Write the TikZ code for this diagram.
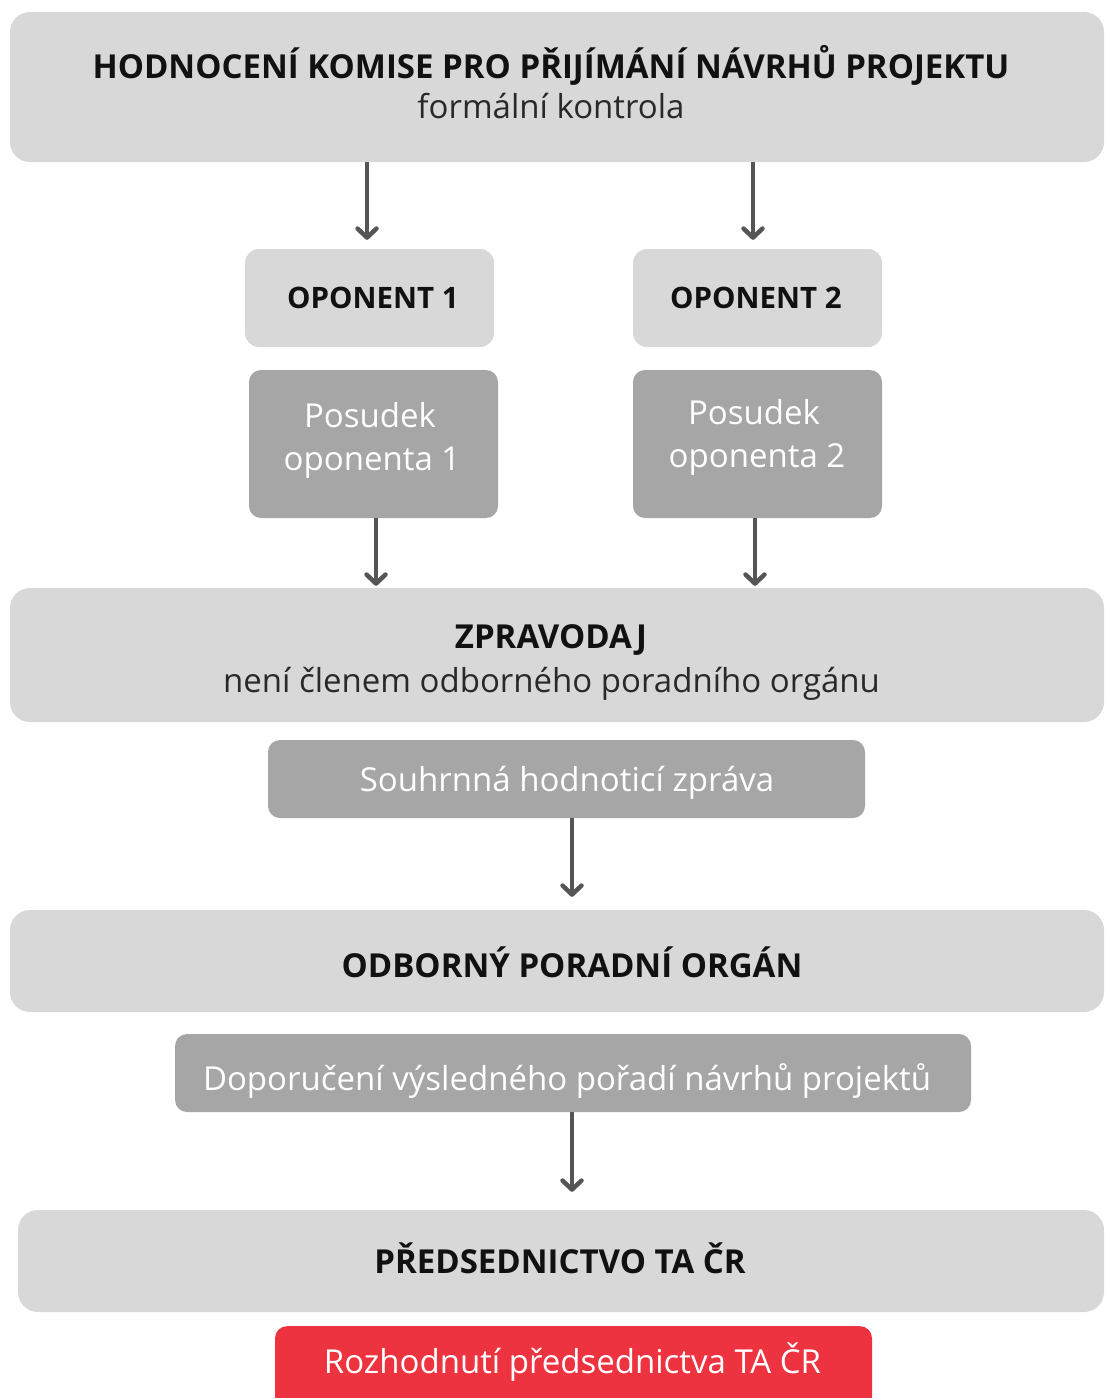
\documentclass[tikz,border=0pt]{standalone}
\usepackage{fontspec}
\setmainfont{Open Sans}
\usetikzlibrary{arrows.meta}
\definecolor{boxlight}{HTML}{D8D8D8}
\definecolor{boxdark}{HTML}{A6A6A6}
\definecolor{boxred}{HTML}{EE3340}
\definecolor{arrowgray}{HTML}{555555}
\definecolor{textdark}{HTML}{111111}
\begin{document}
\begin{tikzpicture}[x=1pt,y=-1pt,
  lightbox/.style={fill=boxlight, rounded corners=20pt, inner sep=0pt},
  darkbox/.style={fill=boxdark, rounded corners=12pt, inner sep=0pt},
  redbox/.style={fill=boxred, rounded corners=12pt, inner sep=0pt},
  hdr/.style={anchor=base, inner sep=0pt, text=textdark, font=\fontsize{33}{40}\selectfont\bfseries},
  oph/.style={anchor=base, inner sep=0pt, text=textdark, font=\fontsize{29.5}{36}\selectfont\bfseries},
  sub/.style={anchor=base, inner sep=0pt, text=textdark!90!white, font=\fontsize{33}{40}\selectfont},
  wtxt/.style={anchor=base, inner sep=0pt, text=white, font=\fontsize{33}{40}\selectfont},
  arr/.style={draw=arrowgray, line width=4.5pt, -{Straight Barb[length=9pt,width=19pt,line cap=round,line join=round]}}
]
\clip (0,0) rectangle (1104,1398);
\fill[white] (0,0) rectangle (1104,1398);

% boxes
\node[lightbox, minimum width=1094pt, minimum height=150pt] (top) at (557,87) {};
\node[lightbox, rounded corners=14pt, minimum width=249pt, minimum height=98pt] (op1) at (369.5,298) {};
\node[lightbox, rounded corners=14pt, minimum width=249pt, minimum height=98pt] (op2) at (757.5,298) {};
\node[darkbox, minimum width=249pt, minimum height=148pt] (p1) at (373.5,444) {};
\node[darkbox, minimum width=249pt, minimum height=148pt] (p2) at (757.5,444) {};
\node[lightbox, minimum width=1094pt, minimum height=134pt] (zp) at (557,655) {};
\node[darkbox, minimum width=597pt, minimum height=78pt] (sz) at (566.5,779) {};
\node[lightbox, minimum width=1094pt, minimum height=102pt] (opo) at (557,961) {};
\node[darkbox, minimum width=796pt, minimum height=78pt] (dop) at (573,1073) {};
\node[lightbox, minimum width=1086pt, minimum height=102pt] (pr) at (561,1261) {};
\node[redbox, minimum width=597pt, minimum height=100pt, anchor=north] (roz) at (573.5,1326) {};

% texts
\node[hdr] (topt1) at (551,78) {HODNOCENÍ KOMISE PRO PŘIJÍMÁNÍ NÁVRHŮ PROJEKTU};
\node[sub] (topt2) at (551,118) {formální kontrola};
\node[oph] (op1t) at (373,308.5) {OPONENT 1};
\node[oph] (op2t) at (756,308.5) {OPONENT 2};
\node[wtxt] (p1t1) at (370,427) {Posudek};
\node[wtxt] (p1t2) at (372,470) {oponenta 1};
\node[wtxt] (p2t1) at (754,424) {Posudek};
\node[wtxt] (p2t2) at (757,467) {oponenta 2};
\node[hdr] (zpt1) at (551,648) {ZPRAVODAJ};
\node[sub] (zpt2) at (551.5,692) {není členem odborného poradního orgánu};
\node[wtxt] (szt) at (567,791) {Souhrnná hodnoticí zpráva};
\node[hdr] (opot) at (572,977) {ODBORNÝ PORADNÍ ORGÁN};
\node[wtxt] (dopt) at (567,1090) {Doporučení výsledného pořadí návrhů projektů};
\node[hdr] (prt) at (560,1273) {PŘEDSEDNICTVO TA ČR};
\node[wtxt] (rozt) at (572.5,1373) {Rozhodnutí předsednictva TA ČR};

% connectors
\draw[arr] (top.south -| 367,0) -- ([yshift=9pt]op1.north -| 367,0);
\draw[arr] (top.south -| 753,0) -- ([yshift=9pt]op2.north -| 753,0);
\draw[arr] (p1.south -| 376,0) -- ([yshift=2pt]zp.north -| 376,0);
\draw[arr] (p2.south -| 755,0) -- ([yshift=2pt]zp.north -| 755,0);
\draw[arr] (sz.south -| 572,0) -- ([yshift=13pt]opo.north -| 572,0);
\draw[arr] (dop.south -| 572,0) -- ([yshift=18pt]pr.north -| 572,0);
\end{tikzpicture}
\end{document}
